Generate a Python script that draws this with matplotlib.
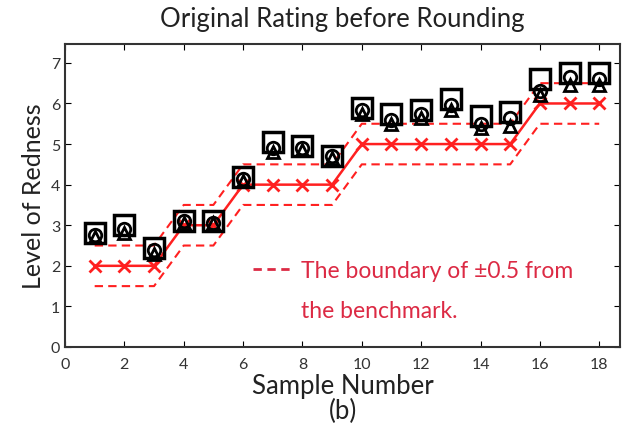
import matplotlib
matplotlib.use('Agg')
import matplotlib.pyplot as plt
from matplotlib.lines import Line2D
import numpy as np

# sample numbers and ratings
samples = list(range(1, 19))
benchmark = [2, 2, 2, 3, 3, 4, 4, 4, 4, 5, 5, 5, 5, 5, 5, 6, 6, 6]
rating_sq = [2.8, 3.0, 2.45, 3.1, 3.1, 4.2, 5.05, 4.95, 4.7, 5.9, 5.75, 5.85, 6.1, 5.7, 5.8, 6.6, 6.75, 6.75]
rating_ci = [2.75, 2.9, 2.4, 3.1, 3.05, 4.15, 4.9, 4.9, 4.7, 5.85, 5.6, 5.75, 5.95, 5.5, 5.65, 6.3, 6.65, 6.6]
rating_tr = [2.7, 2.8, 2.3, 3.05, 3.05, 4.1, 4.8, 4.85, 4.65, 5.75, 5.5, 5.65, 5.85, 5.4, 5.45, 6.2, 6.45, 6.45]
margin = 0.5
legend_lines = ['The boundary of \u00b10.5 from', 'the benchmark.']

plt.rcParams['font.family'] = ['Lato', 'DejaVu Sans']

fig = plt.figure(figsize=(6.25, 4.35), dpi=100)
ax = fig.add_axes([0.104, 0.2, 0.888, 0.697])

bench = np.array(benchmark)
red = '#ff2020'
txt_red = '#dc2a44'
ax.plot(samples, bench + margin, '--', color=red, lw=1.5, dashes=(4, 2.5))
ax.plot(samples, bench - margin, '--', color=red, lw=1.5, dashes=(4, 2.5))
ax.plot(samples, bench, '-', color=red, lw=1.8, marker='x', ms=8, mew=2)

ax.plot(samples, rating_sq, 's', ms=14, mfc='none', mec='black', mew=2.5)
ax.plot(samples, rating_ci, 'o', ms=9, mfc='none', mec='black', mew=2)
ax.plot(samples, rating_tr, '^', ms=8, mfc='none', mec='black', mew=2)

ax.set_xlim(0, 18.7)
ax.set_ylim(0, 7.47)
ax.set_xticks(range(0, 19, 2))
ax.set_yticks(range(0, 8))
ax.tick_params(direction='in', top=True, right=True, labelsize=11.5, length=4,
               labelcolor='#333333')
ax.tick_params(axis='x', pad=7)
for s in ax.spines.values():
    s.set_linewidth(1.5)
    s.set_color('#333333')

ax.set_title('Original Rating before Rounding', fontsize=18.5, color='#222222', pad=13)
ax.set_ylabel('Level of Redness', fontsize=18, color='#222222', labelpad=4)
ax.set_xlabel('Sample Number\n(b)', fontsize=18.5, color='#222222', linespacing=0.95, labelpad=2)

blank = Line2D([], [], linestyle='none')
handle = Line2D([], [], color=txt_red, lw=2, dashes=(3, 2))
leg = ax.legend([handle, blank], legend_lines, loc='upper left',
                bbox_to_anchor=(0.318, 0.325), frameon=False, borderpad=0,
                fontsize=16.5, labelcolor=txt_red, handlelength=1.6,
                handletextpad=0.5, labelspacing=0.85)

fig.savefig('out.png', dpi=100)
